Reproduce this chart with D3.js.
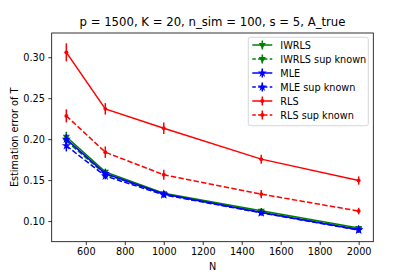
<!DOCTYPE html>
<html>
<head>
<meta charset="utf-8">
<script src="https://cdn.jsdelivr.net/npm/d3@7"></script>
<style>
  body { margin: 0; background: #fff; }
  text { font-family: "DejaVu Sans", sans-serif; fill: #000; }
</style>
</head>
<body>
<svg class="js-chart" width="415" height="277"></svg>
<script>
var N = [500, 700, 1000, 1500, 2000],
    iwrls = [0.203, 0.160, 0.134, 0.1125, 0.0915],
    iwrlsErr = [0.006, 0.004, 0.003, 0.003, 0.003],
    iwrlsSup = [0.198, 0.157, 0.133, 0.111, 0.090],
    iwrlsSupErr = [0.007, 0.004, 0.003, 0.003, 0.003],
    mle = [0.200, 0.158, 0.133, 0.1105, 0.0895],
    mleErr = [0.006, 0.004, 0.003, 0.003, 0.003],
    mleSup = [0.192, 0.155, 0.132, 0.110, 0.089],
    mleSupErr = [0.007, 0.004, 0.003, 0.003, 0.003],
    rls = [0.306, 0.237, 0.2134, 0.1756, 0.1495],
    rlsErr = [0.011, 0.007, 0.007, 0.0055, 0.005],
    rlsSup = [0.2284, 0.1841, 0.1565, 0.1329, 0.1122],
    rlsSupErr = [0.008, 0.007, 0.006, 0.005, 0.004],
    xTicks = [600, 800, 1000, 1200, 1400, 1600, 1800, 2000],
    yTicks = [0.10, 0.15, 0.20, 0.25, 0.30];

var series = [
  {name: 'IWRLS', y: iwrls, e: iwrlsErr, color: '#008000', dash: null, marker: 'tri'},
  {name: 'IWRLS sup known', y: iwrlsSup, e: iwrlsSupErr, color: '#008000', dash: '5.4,2.3', marker: 'tri'},
  {name: 'MLE', y: mle, e: mleErr, color: '#0000ff', dash: null, marker: 'star'},
  {name: 'MLE sup known', y: mleSup, e: mleSupErr, color: '#0000ff', dash: '5.4,2.3', marker: 'star'},
  {name: 'RLS', y: rls, e: rlsErr, color: '#ff0000', dash: null, marker: 'dot'},
  {name: 'RLS sup known', y: rlsSup, e: rlsSupErr, color: '#ff0000', dash: '5.4,2.3', marker: 'dot'}
];

var PL = 51.7, PR = 373.3, PT = 33, PB = 241.7,
    svg = d3.select('.js-chart');

var x = d3.scaleLinear().domain([425, 2075]).range([PL, PR]),
    y = d3.scaleLinear().domain([0.0748, 0.3296]).range([PB, PT]);

// axes
var xAxis = svg.append('g')
    .attr('transform', 'translate(0,' + PB + ')')
    .call(d3.axisBottom(x).tickValues(xTicks).tickSize(3.4).tickPadding(3.4).tickFormat(d3.format('d')));
var yAxis = svg.append('g')
    .attr('transform', 'translate(' + PL + ',0)')
    .call(d3.axisLeft(y).tickValues(yTicks).tickSize(3.4).tickPadding(3.4).tickFormat(d3.format('.2f')));
[xAxis, yAxis].forEach(function(a) {
  a.select('.domain').remove();
  a.selectAll('line').attr('stroke', '#000').attr('stroke-width', 0.8);
  a.selectAll('text').style('font-size', '9.7px').style('font-family', '"DejaVu Sans", sans-serif');
});

function markerPath(m) {
  if (m === 'tri') return d3.symbol().type(d3.symbolTriangle).size(22)();
  if (m === 'star') return d3.symbol().type(d3.symbolStar).size(26)();
  return d3.symbol().type(d3.symbolCircle).size(12)();
}

var line = d3.line().x(function(d) { return x(d[0]); }).y(function(d) { return y(d[1]); });

var plot = svg.append('g');
series.forEach(function(s) {
  var pts = N.map(function(n, i) { return [n, s.y[i], s.e[i]]; });
  var g = plot.append('g');
  g.append('path')
      .attr('d', line(pts))
      .attr('fill', 'none')
      .attr('stroke', s.color)
      .attr('stroke-width', 1.5)
      .attr('stroke-dasharray', s.dash);
  g.selectAll('.err')
      .data(pts)
      .enter()
      .append('line')
      .attr('x1', function(d) { return x(d[0]); })
      .attr('x2', function(d) { return x(d[0]); })
      .attr('y1', function(d) { return y(d[1] - d[2]); })
      .attr('y2', function(d) { return y(d[1] + d[2]); })
      .attr('stroke', s.color)
      .attr('stroke-width', 1.5);
  g.selectAll('.mk')
      .data(pts)
      .enter()
      .append('path')
      .attr('d', markerPath(s.marker))
      .attr('transform', function(d) { return 'translate(' + x(d[0]) + ',' + y(d[1]) + ')' + (s.marker === 'tri' ? ' rotate(180)' : ''); })
      .attr('fill', s.color);
});

// frame
svg.append('rect')
    .attr('x', PL).attr('y', PT)
    .attr('width', PR - PL).attr('height', PB - PT)
    .attr('fill', 'none').attr('stroke', '#000').attr('stroke-width', 0.8);

// title and labels
svg.append('text')
    .attr('x', (PL + PR) / 2).attr('y', 26)
    .attr('text-anchor', 'middle')
    .style('font-size', '11.7px')
    .text('p = 1500, K = 20, n_sim = 100, s = 5, A_true');
svg.append('text')
    .attr('x', (PL + PR) / 2).attr('y', 270)
    .attr('text-anchor', 'middle')
    .style('font-size', '9.7px')
    .text('N');
svg.append('text')
    .attr('transform', 'translate(18,' + ((PT + PB) / 2) + ') rotate(-90)')
    .attr('text-anchor', 'middle')
    .style('font-size', '9.7px')
    .text('Estimation error of T');

// legend
var lg = svg.append('g').attr('transform', 'translate(248.3,37.3)');
lg.append('rect')
    .attr('width', 120).attr('height', 88.4)
    .attr('rx', 2)
    .attr('fill', '#fff').attr('fill-opacity', 0.8)
    .attr('stroke', '#cccccc').attr('stroke-width', 0.8);
var item = lg.selectAll('.item')
    .data(series)
    .enter()
    .append('g')
    .attr('transform', function(d, i) { return 'translate(0,' + (7.7 + i * 14) + ')'; });
item.append('line')
    .attr('x1', 4).attr('x2', 24)
    .attr('stroke', function(d) { return d.color; })
    .attr('stroke-width', 1.5)
    .attr('stroke-dasharray', function(d) { return d.dash ? '3.5,2.3' : null; });
item.append('line')
    .attr('x1', 14).attr('x2', 14).attr('y1', -4.5).attr('y2', 4.5)
    .attr('stroke', function(d) { return d.color; })
    .attr('stroke-width', 1.5);
item.append('path')
    .attr('d', function(d) { return markerPath(d.marker); })
    .attr('transform', function(d) { return 'translate(14,0)' + (d.marker === 'tri' ? ' rotate(180)' : ''); })
    .attr('fill', function(d) { return d.color; });
item.append('text')
    .attr('x', 32).attr('y', 3.5)
    .style('font-size', '9.7px')
    .text(function(d) { return d.name; });
</script>
</body>
</html>
